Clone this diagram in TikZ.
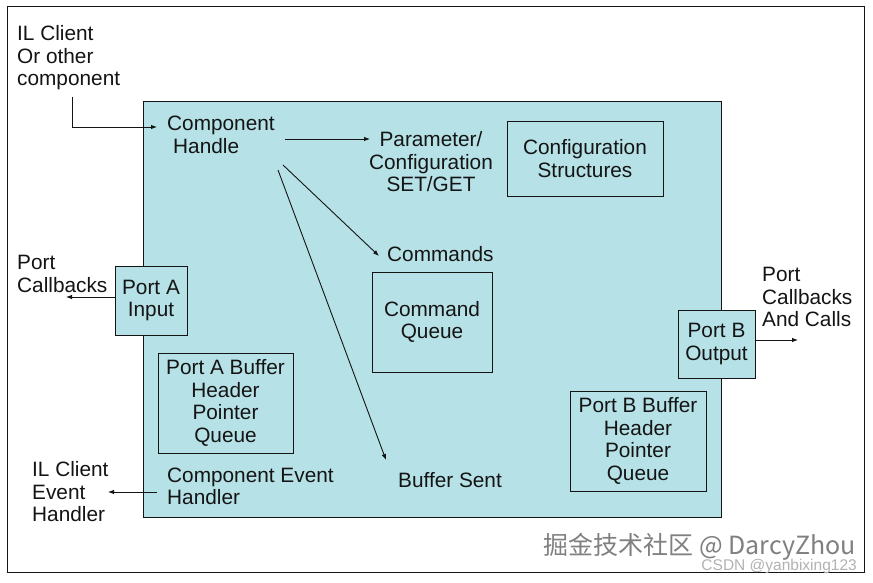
\documentclass[tikz,border=0pt]{standalone}
\usepackage{fontspec}
\setmainfont{Liberation Sans}
\newfontfamily\cjk{Noto Sans CJK SC}
\usetikzlibrary{arrows.meta}
\definecolor{panel}{HTML}{B6E2E7}
\definecolor{ink}{HTML}{141414}
\tikzset{
  txt/.style={inner sep=0pt, text=ink, font=\fontsize{20.8}{22.5}\selectfont},
  lbl/.style={txt, align=left, anchor=west},
  ctr/.style={txt, align=center},
  box/.style={draw=ink, line width=0.9pt},
  arr/.style={draw=ink, line width=0.9pt, -{Latex[length=6pt,width=4.5pt]}},
}
\begin{document}
\begin{tikzpicture}[x=1pt, y=-1pt]
\useasboundingbox (0,0) rectangle (873,583);
\fill[white] (0,0) rectangle (873,583);
\draw[ink, line width=1pt] (7,7) rectangle (864,572);
\filldraw[fill=panel, draw=ink, line width=1pt] (143,102) rectangle (721,517);

% outside texts
\node[lbl] (il) at (17,58) {IL Client\\Or other\\component};
\node[lbl] (pcb) at (17,274) {Port\\Callbacks};
\node[lbl] (ilev) at (32,492) {IL Client\\Event\\Handler};
\node[lbl] (pcbo) at (762,297) {Port\\Callbacks\\And Calls};

% component handle
\node[lbl] (ch) at (167,135) {Component\\\hspace*{6pt}Handle};
\node[ctr] (par) at (431,162) {Parameter/\\Configuration\\SET/GET};
\node[box, ctr, minimum width=156pt, minimum height=75pt] (cfg) at (585,158.5) {Configuration\\Structures};
\node[txt, anchor=west] (cmd) at (387,254) {Commands};
\node[box, ctr, minimum width=120pt, minimum height=100pt] (cq) at (432,322) {Command\\Queue};
\node[txt] (bs) at (450,480) {Buffer Sent};

% ports
\node[box, fill=panel, ctr, minimum width=72pt, minimum height=69pt] (pa) at (151,300.5) {Port A\\Input};
\node[box, ctr, minimum width=135pt, minimum height=100pt] (pab) at (225.5,403) {Port A Buffer\\Header\\Pointer\\Queue};
\node[lbl] (ceh) at (167,486.5) {Component Event\\Handler};
\node[box, fill=panel, ctr, minimum width=77pt, minimum height=68pt] (pb) at (716.5,344) {Port B\\Output};
\node[box, ctr, minimum width=136pt, minimum height=100pt] (pbb) at (638,441) {Port B Buffer\\Header\\Pointer\\Queue};

% connector ends
\coordinate (c0) at (72,97);
\coordinate (c1) at (72,127);
\coordinate (c2) at (157,127);
\coordinate (h1) at (285,139);
\coordinate (h2) at (370,139);
\coordinate (h3) at (283,165);
\coordinate (h4) at (379,256);
\coordinate (h5) at (278,170);
\coordinate (h6) at (386,460);
\coordinate (pl) at (66,297);
\coordinate (el) at (108,492);
\coordinate (er) at (157,492);
\coordinate (pr) at (798,340);

\draw[arr] (c0) -- (c1) -- (c2);
\draw[arr] (h1) -- (h2);
\draw[arr] (h3) -- (h4);
\draw[arr] (h5) -- (h6);
\draw[arr] (pa.west |- pl) -- (pl);
\draw[arr] (er) -- (el);
\draw[arr] (pb.east |- pr) -- (pr);

% watermark
\node[inner sep=0pt, anchor=east, text=black!50, font=\cjk\fontsize{25}{27}\selectfont] (wm1) at (856,547) {掘金技术社区 @ DarcyZhou};
\node[inner sep=0pt, anchor=east, text=black!30, font=\fontsize{15.5}{17}\selectfont] (wm2) at (857,566) {CSDN @yanbixing123};
\end{tikzpicture}
\end{document}
